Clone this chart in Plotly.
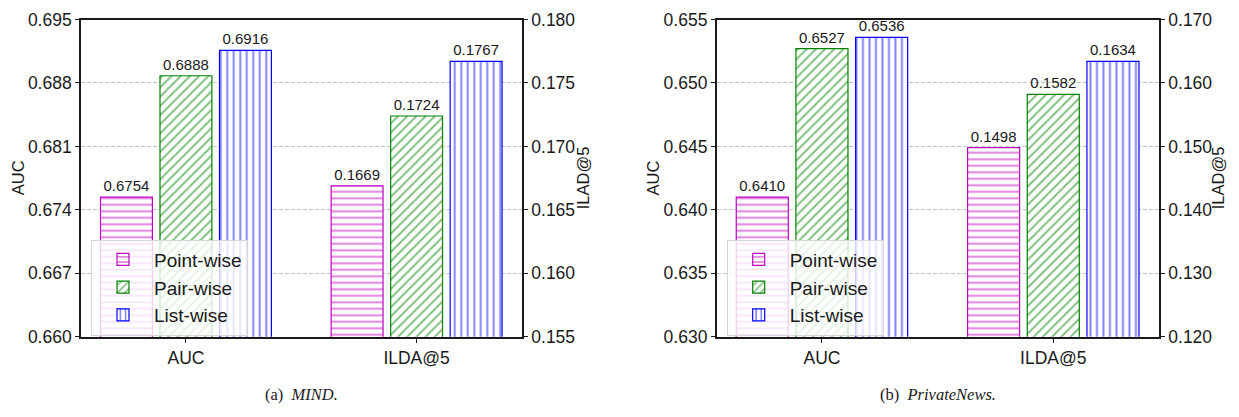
import plotly.graph_objects as go

# ---------------- data ----------------
categories = ["AUC", "ILDA@5"]
methods = ["Point-wise", "Pair-wise", "List-wise"]

mind_auc = [0.6754, 0.6888, 0.6916]
mind_ilad = [0.1669, 0.1724, 0.1767]
priv_auc = [0.6410, 0.6527, 0.6536]
priv_ilad = [0.1498, 0.1582, 0.1634]

mind_auc_ticks = [0.660, 0.667, 0.674, 0.681, 0.688, 0.695]
mind_ilad_ticks = [0.155, 0.160, 0.165, 0.170, 0.175, 0.180]
priv_auc_ticks = [0.630, 0.635, 0.640, 0.645, 0.650, 0.655]
priv_ilad_ticks = [0.120, 0.130, 0.140, 0.150, 0.160, 0.170]

captions = ["(a)  <i>MIND.</i>", "(b)  <i>PrivateNews.</i>"]

# ---------------- style ----------------
W, H = 1239, 417
colors = ["#bf00bf", "#008000", "#0000ff"]
shapes = ["-", "/", "|"]
offsets = [-0.3705, -0.1125, 0.1455]
bar_w = 0.225
FONT = "Liberation Sans"

def px_x(p):
    return p / W

def px_y(p):
    return 1 - p / H

fig = go.Figure()

panels = [
    dict(auc=mind_auc, ilad=mind_ilad, xa="x", ya="y", ya2="y2", legend="legend"),
    dict(auc=priv_auc, ilad=priv_ilad, xa="x2", ya="y3", ya2="y4", legend="legend2"),
]

label_font = dict(family=FONT, size=15, color="#1a1a1a")

for p in panels:
    for i, m in enumerate(methods):
        marker = dict(
            color="white",
            line=dict(color=colors[i], width=1.2),
            pattern=dict(shape=shapes[i], fgcolor=colors[i], bgcolor="white",
                         size=6.5, solidity=0.3, fillmode="overlay"),
        )
        fig.add_trace(go.Bar(
            x=[categories[0]], y=[p["auc"][i]], name=m,
            xaxis=p["xa"], yaxis=p["ya"], legend=p["legend"],
            width=bar_w, offset=offsets[i], marker=marker,
            text=[f"{p['auc'][i]:.4f}"], textposition="outside", textangle=0,
            textfont=label_font, outsidetextfont=label_font,
            cliponaxis=False, constraintext="none", showlegend=True,
        ))
        fig.add_trace(go.Bar(
            x=[categories[1]], y=[p["ilad"][i]], name=m,
            xaxis=p["xa"], yaxis=p["ya2"], legend=p["legend"],
            width=bar_w, offset=offsets[i], marker=marker,
            text=[f"{p['ilad'][i]:.4f}"], textposition="outside", textangle=0,
            textfont=label_font, outsidetextfont=label_font,
            cliponaxis=False, constraintext="none", showlegend=False,
        ))

axis_line = dict(showline=True, linecolor="#1a1a1a", linewidth=1.6,
                 ticks="outside", ticklen=4, tickwidth=1.3, tickcolor="#1a1a1a",
                 tickfont=dict(family=FONT, size=17.5, color="#1a1a1a"),
                 ticklabeloverflow="allow", zeroline=False)

ydom = [px_y(343.3), px_y(10)]

def xaxis(domain, anchor):
    return dict(domain=domain, anchor=anchor, type="category",
                categoryorder="array", categoryarray=categories,
                range=[-0.455, 1.457], showgrid=False, mirror=True, **axis_line)

def yaxis(ticks, anchor, grid=True, **kw):
    return dict(range=[ticks[0], ticks[-1]], tickvals=ticks,
                ticktext=[f"{t:.3f}" for t in ticks], anchor=anchor,
                showgrid=grid, gridcolor="#c4c4c4", gridwidth=1,
                griddash="4px,2px", **axis_line, **kw)

legend_style = dict(
    font=dict(family=FONT, size=19, color="#1a1a1a"),
    bgcolor="rgba(255,255,255,0.8)", bordercolor="#d6d6d6", borderwidth=1,
    xanchor="left", yanchor="bottom", tracegroupgap=0, itemwidth=52,
)

fig.update_layout(
    width=W, height=H,
    margin=dict(l=0, r=0, t=0, b=0),
    paper_bgcolor="white", plot_bgcolor="white",
    barmode="overlay",
    font=dict(family=FONT, color="#1a1a1a"),
    xaxis=xaxis([px_x(81), px_x(522)], "y"),
    yaxis=yaxis(mind_auc_ticks, "x", domain=ydom),
    yaxis2=yaxis(mind_ilad_ticks, "x", grid=False, overlaying="y", side="right"),
    xaxis2=xaxis([px_x(716.7), px_x(1159)], "y3"),
    yaxis3=yaxis(priv_auc_ticks, "x2", domain=ydom),
    yaxis4=yaxis(priv_ilad_ticks, "x2", grid=False, overlaying="y3", side="right"),
    legend=dict(x=px_x(91), y=px_y(342), **legend_style),
    legend2=dict(x=px_x(726.7), y=px_y(342), **legend_style),
)

# axis titles
titles = [("AUC", 18), ("ILAD@5", 583), ("AUC", 653.3), ("ILAD@5", 1218)]
for t, xp in titles:
    fig.add_annotation(text=t, x=px_x(xp), y=px_y(176.7), xref="paper", yref="paper",
                       textangle=-90, showarrow=False,
                       font=dict(family=FONT, size=16.5, color="#1a1a1a"),
                       xanchor="center", yanchor="middle")

# captions
for cap, xp in zip(captions, [301, 938]):
    fig.add_annotation(text=cap, x=px_x(xp), y=px_y(404), xref="paper", yref="paper",
                       showarrow=False, font=dict(family="Liberation Serif", size=16.5, color="#1a1a1a"),
                       xanchor="center", yanchor="middle")

fig.write_html(
    "out.html",
    config={"displayModeBar": False},
    post_script="document.body.style.margin='0';document.body.style.overflow='hidden';",
)
